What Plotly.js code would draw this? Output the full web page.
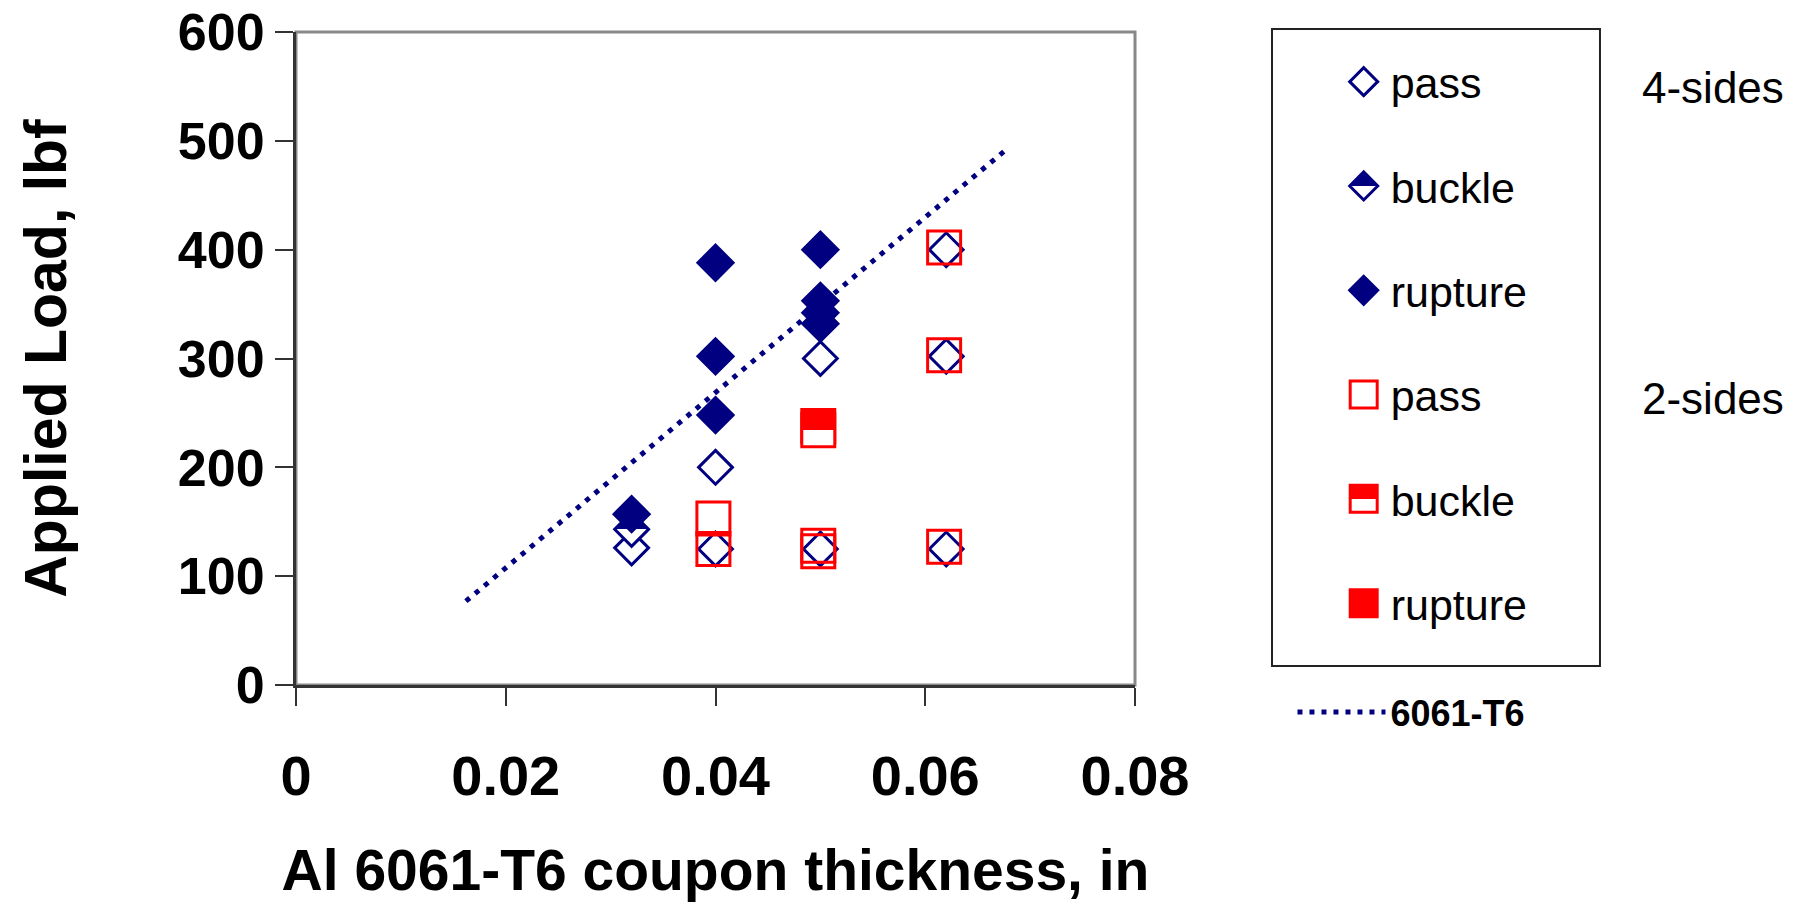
<!DOCTYPE html>
<html>
<head>
<meta charset="utf-8">
<script src="https://cdn.plot.ly/plotly-3.0.1.min.js"></script>
<style>html,body{margin:0;padding:0;background:#fff;}#chart{width:1801px;height:902px;}</style>
</head>
<body>
<div id="chart"></div>
<script>
// ---- data ----
const x4Pass    = [0.032, 0.040, 0.040, 0.050, 0.050, 0.062, 0.062, 0.062];
const y4Pass    = [126, 200, 125, 300, 125, 400, 302, 125];
const x4Buckle  = [0.032];
const y4Buckle  = [143];
const x4Rupture = [0.032, 0.040, 0.040, 0.040, 0.050, 0.050, 0.050, 0.050];
const y4Rupture = [157, 388, 302, 248, 400, 353, 342, 332];
const x2Pass    = [0.0398, 0.0398, 0.0498, 0.0498, 0.0618, 0.0618, 0.0618];
const y2Pass    = [153, 125, 128, 123, 402, 303, 127];
const x2Buckle  = [0.0498, 0.0498];
const y2Buckle  = [238, 234];
const x2Rupture = [null];
const y2Rupture = [null];
const xFit      = [0.0162, 0.0676];
const yFit      = [77, 491];
const seriesNames = ['pass', 'buckle', 'rupture', 'pass', 'buckle', 'rupture'];
const fitName = '6061-T6';
const groupLabels = ['4-sides', '2-sides'];
const xTitle = 'Al 6061-T6 coupon thickness, in';
const yTitle = 'Applied Load, lbf';

const NAVY = '#000080', RED = '#FF0000';
const FONT = 'Arial, "Liberation Sans", sans-serif';

const traces = [
  {x: x4Pass, y: y4Pass, name: seriesNames[0], legendgroup: 'a', mode: 'markers',
   marker: {symbol: 'diamond-open', size: 26, color: NAVY, line: {color: NAVY, width: 3}}},
  {x: x4Buckle, y: y4Buckle, name: seriesNames[1], legendgroup: 'b', mode: 'markers',
   marker: {symbol: 'diamond', size: 26, color: NAVY, line: {color: NAVY, width: 3},
            gradient: {type: 'vertical', color: '#FFFFFF'}}},
  {x: x4Rupture, y: y4Rupture, name: seriesNames[2], legendgroup: 'c', mode: 'markers',
   marker: {symbol: 'diamond', size: 27, color: NAVY, line: {color: NAVY, width: 3}}},
  {x: x2Pass, y: y2Pass, name: seriesNames[3], legendgroup: 'd', mode: 'markers',
   marker: {symbol: 'square-open', size: 33, color: RED, line: {color: RED, width: 3}}},
  {x: x2Buckle, y: y2Buckle, name: seriesNames[4], legendgroup: 'e', mode: 'markers',
   marker: {symbol: 'square', size: 33, color: RED, line: {color: RED, width: 3},
            gradient: {type: 'vertical', color: '#FFFFFF'}}},
  {x: x2Rupture, y: y2Rupture, name: seriesNames[5], legendgroup: 'f', mode: 'markers',
   marker: {symbol: 'square', size: 33, color: RED, line: {color: RED, width: 3}}},
  {x: xFit, y: yFit, name: fitName, mode: 'lines', legend: 'legend2',
   line: {color: NAVY, width: 5, dash: '5px,7px'}}
];

const layout = {
  width: 1801, height: 902,
  margin: {l: 296, r: 666, t: 32, b: 217},
  paper_bgcolor: '#FFFFFF', plot_bgcolor: '#FFFFFF',
  font: {family: FONT, color: '#000000'},
  showlegend: true,
  xaxis: {
    range: [0, 0.08], dtick: 0.02, tick0: 0, showgrid: false, zeroline: false,
    showline: true, linecolor: '#333333', linewidth: 3,
    ticks: 'outside', ticklen: 18, tickwidth: 2, tickcolor: '#333333',
    ticklabelstandoff: 22,
    tickfont: {family: FONT, size: 56, weight: 'bold', color: '#000000'},
    title: {text: xTitle, standoff: 72, font: {family: FONT, size: 57, weight: 'bold', color: '#000000'}}
  },
  yaxis: {
    range: [0, 600], dtick: 100, tick0: 0, showgrid: false, zeroline: false,
    showline: true, linecolor: '#333333', linewidth: 3,
    ticks: 'outside', ticklen: 18, tickwidth: 2, tickcolor: '#333333',
    tickfont: {family: FONT, size: 52, weight: 'bold', color: '#000000'},
    title: {text: yTitle, standoff: 93, font: {family: FONT, size: 59, weight: 'bold', color: '#000000'}}
  },
  legend: {
    x: 1.2404, y: 0.9767, xanchor: 'left', yanchor: 'top',
    bgcolor: 'rgba(0,0,0,0)', borderwidth: 0,
    traceorder: 'grouped', tracegroupgap: 45.4, itemwidth: 44,
    font: {family: FONT, size: 43, color: '#000000'}
  },
  legend2: {
    x: 1.1877, y: 0.0045, xanchor: 'left', yanchor: 'top',
    bgcolor: 'rgba(0,0,0,0)', borderwidth: 0, itemwidth: 88,
    font: {family: FONT, size: 36, weight: 'bold', color: '#000000'}
  },
  shapes: [
    {type: 'rect', xref: 'paper', yref: 'paper', x0: 0, x1: 1, y0: 0, y1: 1,
     line: {color: '#888888', width: 3}, layer: 'below'},
    {type: 'rect', xref: 'paper', yref: 'paper', x0: 1.1633, x1: 1.5542, y0: 0.029, y1: 1.0046,
     line: {color: '#222222', width: 2}, fillcolor: 'rgba(0,0,0,0)'}
  ],
  annotations: [
    {text: groupLabels[0], xref: 'paper', yref: 'paper', x: 1.602, y: 0.915, xanchor: 'left', yanchor: 'middle',
     showarrow: false, font: {family: FONT, size: 44, color: '#000000'}},
    {text: groupLabels[1], xref: 'paper', yref: 'paper', x: 1.602, y: 0.4388, xanchor: 'left', yanchor: 'middle',
     showarrow: false, font: {family: FONT, size: 44, color: '#000000'}}
  ]
};

Plotly.newPlot('chart', traces, layout, {staticPlot: true, displayModeBar: false}).then(function (gd) {
  // hard half/half edge for the "buckle" gradient fills (white bottom, solid top)
  document.querySelectorAll('#chart linearGradient').forEach(function (g) {
    g.querySelectorAll('stop').forEach(function (s) { s.setAttribute('offset', '50%'); });
  });
  // enlarge legend symbols (plotly caps legend marker size)
  document.querySelectorAll('#chart .legend .traces').forEach(function (tg) {
    const d = tg.__data__;
    if (!d || !d[0] || !d[0].trace) return;
    const tr = d[0].trace;
    const sym = tr.marker && tr.marker.symbol ? String(tr.marker.symbol) : '';
    tg.querySelectorAll('path.scatterpts').forEach(function (p) {
      let r = 13.5;
      if (sym.indexOf('diamond') === 0) {
        r = 14;
        p.setAttribute('d', 'M' + r + ',0L0,' + r + 'L-' + r + ',0L0,-' + r + 'Z');
      } else if (sym.indexOf('square') === 0) {
        p.setAttribute('d', 'M' + r + ',' + r + 'H-' + r + 'V-' + r + 'H' + r + 'Z');
      }
    });
    tg.querySelectorAll('.legendlines path').forEach(function (p) {
      p.setAttribute('d', 'M5,0h77');
    });
  });
});
</script>
</body>
</html>
